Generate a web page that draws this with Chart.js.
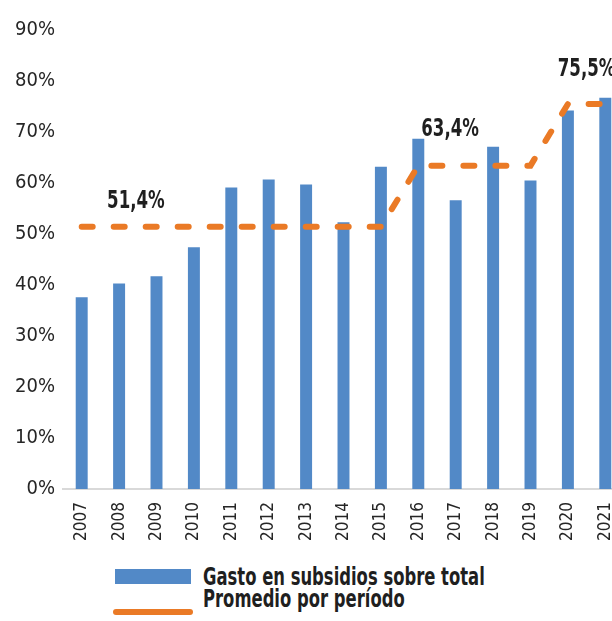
<!DOCTYPE html>
<html>
<head>
<meta charset="utf-8">
<script src="https://cdn.jsdelivr.net/npm/chart.js@4.4.1/dist/chart.umd.min.js"></script>
<style>
    body { margin: 0; width: 612px; height: 621px; overflow: hidden; background: #fff; position: relative; }
    #chart { position: absolute; left: 0; top: 0; }
    .legend-item { position: absolute; left: 0; font-family: 'Liberation Sans Narrow', 'DejaVu Sans Condensed', sans-serif; font-weight: bold; font-size: 24px; line-height: 28px; color: #1f1f1f; white-space: nowrap; transform: scaleX(0.76); transform-origin: left center; }
    .swatch { position: absolute; }
</style>
</head>
<body>
<canvas id="chart" width="640" height="560"></canvas>
<div id="legend"></div>
<script>
const years = ['2007', '2008', '2009', '2010', '2011', '2012', '2013', '2014', '2015', '2016', '2017', '2018', '2019', '2020', '2021'];
const subsidyShare = [37.6, 40.3, 41.7, 47.4, 59.1, 60.7, 59.7, 52.3, 63.2, 68.7, 56.6, 67.1, 60.5, 74.2, 76.7];
const periodAverage = [51.4, 51.4, 51.4, 51.4, 51.4, 51.4, 51.4, 51.4, 51.4, 63.4, 63.4, 63.4, 63.4, 75.5, 75.5];
const periodLabels = ['51,4%', '63,4%', '75,5%'];
const periodValues = [51.4, 63.4, 75.5];
const yTickLabels = ['0%', '10%', '20%', '30%', '40%', '50%', '60%', '70%', '80%', '90%'];
const seriesNames = ['Gasto en subsidios sobre total', 'Promedio por período'];

const blue = '#5289c7';
const orange = '#ea7a26';
const narrow = "'Liberation Sans Narrow', 'DejaVu Sans Condensed', sans-serif";

// where each period label sits (category index) and how far above the line
const labelSpots = [
    { at: 1.45, lift: 19 },
    { at: 9.85, lift: 30 },
    { at: 13.5, lift: 28 },
];

const periodLabelPlugin = {
    id: 'periodLabels',
    afterDatasetsDraw(chart) {
        const ctx = chart.ctx;
        const xs = chart.scales.x;
        const ys = chart.scales.y;
        ctx.save();
        ctx.font = 'bold 24px ' + narrow;
        ctx.fillStyle = '#1f1f1f';
        ctx.textAlign = 'center';
        ctx.textBaseline = 'alphabetic';
        periodLabels.forEach((text, i) => {
            const x = xs.getPixelForValue(labelSpots[i].at);
            const y = ys.getPixelForValue(periodValues[i]) - labelSpots[i].lift;
            ctx.save();
            ctx.translate(x, y);
            ctx.scale(0.77, 1); // squeeze to look like a condensed face
            ctx.fillText(text, 0, 0);
            ctx.restore();
        });
        ctx.restore();
    }
};

const ctx = document.getElementById('chart').getContext('2d');
const myChart = new Chart(ctx, {
    data: {
        labels: years,
        datasets: [
            {
                type: 'line',
                label: seriesNames[1],
                data: periodAverage,
                borderColor: orange,
                borderWidth: 6,
                borderDash: [11, 21],
                borderCapStyle: 'round',
                pointRadius: 0,
                tension: 0,
                order: 0,
            },
            {
                type: 'bar',
                label: seriesNames[0],
                data: subsidyShare,
                backgroundColor: blue,
                barPercentage: 0.32,
                categoryPercentage: 1,
                order: 1,
            },
        ],
    },
    options: {
        responsive: false,
        devicePixelRatio: 1,
        animation: false,
        layout: { padding: { top: 30, right: 16, left: 0, bottom: 0 } },
        plugins: {
            legend: { display: false },
            tooltip: { enabled: false },
        },
        scales: {
            x: {
                grid: { display: false, drawTicks: false },
                border: { display: true, color: '#d9d9d9', width: 2 },
                ticks: {
                    minRotation: 90,
                    maxRotation: 90,
                    padding: 13,
                    color: '#262626',
                    font: { family: narrow, size: 17 },
                },
                afterFit(scale) { scale.height = 71; },
            },
            y: {
                min: 0,
                max: 90,
                grid: { display: false, drawTicks: false },
                border: { display: false },
                ticks: {
                    stepSize: 10,
                    padding: 8,
                    color: '#262626',
                    font: { family: narrow, size: 20 },
                    callback: (value) => yTickLabels[Math.round(value / 10)],
                },
                afterFit(scale) { scale.width = 63; },
            },
        },
    },
    plugins: [periodLabelPlugin],
});

// legend below the chart, stacked like the original
const legend = document.getElementById('legend');
function addLegendRow(text, textTop, swatchStyle) {
    const sw = document.createElement('div');
    sw.className = 'swatch';
    Object.assign(sw.style, swatchStyle);
    legend.appendChild(sw);
    const label = document.createElement('div');
    label.className = 'legend-item';
    label.style.left = '203px';
    label.style.top = textTop + 'px';
    label.textContent = text;
    legend.appendChild(label);
}
addLegendRow(seriesNames[0], 563, { left: '115px', top: '569px', width: '76px', height: '15px', background: blue });
addLegendRow(seriesNames[1], 585, { left: '113px', top: '609px', width: '80px', height: '6px', background: orange, borderRadius: '3px' });
</script>
</body>
</html>
